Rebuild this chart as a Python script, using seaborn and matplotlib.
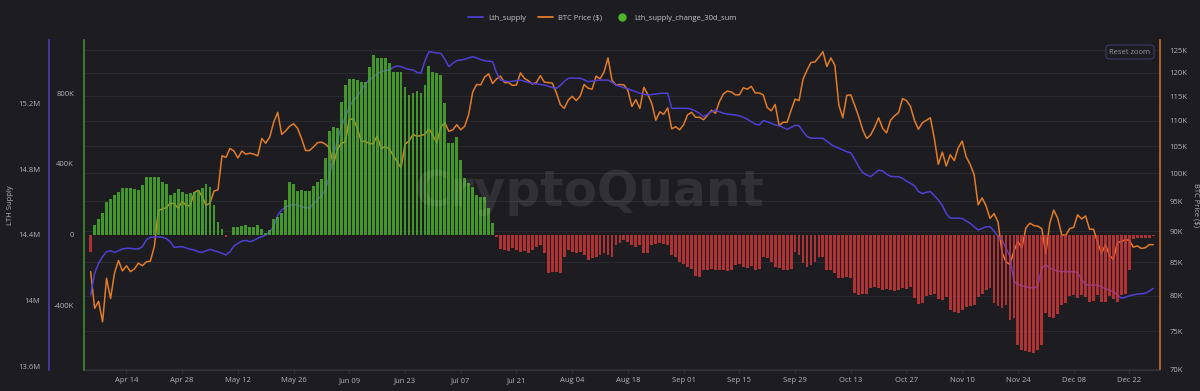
import numpy as np
import pandas as pd
import matplotlib
matplotlib.use("Agg")
import matplotlib.pyplot as plt
import matplotlib.dates as mdates
from matplotlib.ticker import FixedLocator, FuncFormatter, NullLocator, NullFormatter
from matplotlib.lines import Line2D
import seaborn as sns

# ---------------- data (daily, starting 2025-04-05) ----------------
start_date = "2025-04-05"

lth_supply_m = [
    14.035, 14.167, 14.228, 14.268, 14.298, 14.304, 14.294, 14.304, 14.315, 14.319,
    14.319, 14.315, 14.315, 14.329, 14.370, 14.386, 14.388, 14.388, 14.386, 14.378,
    14.359, 14.325, 14.327, 14.329, 14.321, 14.313, 14.309, 14.298, 14.294, 14.304,
    14.313, 14.304, 14.298, 14.288, 14.278, 14.298, 14.333, 14.349, 14.363, 14.367,
    14.359, 14.367, 14.380, 14.390, 14.400, 14.420, 14.451, 14.520, 14.552, 14.570,
    14.580, 14.585, 14.583, 14.572, 14.566, 14.564, 14.590, 14.613, 14.640, 14.674,
    14.760, 14.880, 14.980, 15.059, 15.120, 15.180, 15.220, 15.242, 15.280, 15.320,
    15.344, 15.360, 15.380, 15.395, 15.400, 15.405, 15.420, 15.429, 15.425, 15.415,
    15.408, 15.405, 15.390, 15.384, 15.460, 15.516, 15.512, 15.508, 15.506, 15.470,
    15.425, 15.445, 15.462, 15.465, 15.470, 15.478, 15.485, 15.478, 15.468, 15.461,
    15.458, 15.455, 15.386, 15.343, 15.338, 15.333, 15.336, 15.340, 15.343, 15.335,
    15.328, 15.323, 15.320, 15.316, 15.313, 15.305, 15.298, 15.293, 15.310, 15.335,
    15.354, 15.356, 15.354, 15.354, 15.345, 15.333, 15.336, 15.340, 15.343, 15.343,
    15.343, 15.330, 15.313, 15.305, 15.296, 15.290, 15.280, 15.272, 15.263, 15.256,
    15.252, 15.255, 15.258, 15.262, 15.263, 15.263, 15.171, 15.171, 15.172, 15.171,
    15.171, 15.165, 15.155, 15.140, 15.120, 15.135, 15.150, 15.161, 15.150, 15.141,
    15.136, 15.133, 15.131, 15.125, 15.117, 15.105, 15.090, 15.075, 15.070, 15.096,
    15.090, 15.080, 15.070, 15.065, 15.055, 15.043, 15.055, 15.068, 15.065, 15.030,
    15.000, 14.989, 14.989, 14.989, 14.989, 14.970, 14.952, 14.938, 14.928, 14.918,
    14.907, 14.900, 14.860, 14.815, 14.780, 14.765, 14.755, 14.775, 14.795, 14.790,
    14.770, 14.757, 14.755, 14.755, 14.745, 14.728, 14.715, 14.700, 14.665, 14.652,
    14.660, 14.664, 14.640, 14.613, 14.580, 14.530, 14.502, 14.502, 14.503, 14.500,
    14.485, 14.471, 14.450, 14.430, 14.440, 14.450, 14.451, 14.425, 14.390, 14.370,
    14.320, 14.268, 14.116, 14.100, 14.090, 14.085, 14.080, 14.077, 14.090, 14.200,
    14.217, 14.200, 14.187, 14.180, 14.177, 14.177, 14.176, 14.177, 14.170, 14.130,
    14.096, 14.096, 14.095, 14.096, 14.085, 14.072, 14.065, 14.055, 14.035, 14.015,
    14.020, 14.030, 14.035, 14.040, 14.042, 14.045, 14.058, 14.075,
]

btc_price_k = [
    83.6, 78.2, 79.2, 76.3, 82.6, 79.6, 83.4, 85.3, 83.7, 84.5,
    83.6, 84.0, 84.9, 84.5, 85.1, 85.2, 87.5, 93.4, 93.7, 93.9,
    94.7, 94.6, 93.8, 95.0, 94.3, 94.2, 96.5, 96.9, 95.9, 94.3,
    94.7, 96.8, 97.0, 103.2, 102.9, 104.6, 104.1, 102.8, 104.1, 103.5,
    103.7, 103.5, 103.2, 106.5, 105.6, 106.8, 109.7, 111.7, 107.3, 108.0,
    108.9, 109.4, 108.5, 106.5, 104.2, 104.2, 104.9, 105.7, 105.8, 105.4,
    104.7, 101.6, 104.4, 105.6, 105.8, 110.3, 110.3, 108.6, 105.9, 106.0,
    105.5, 105.5, 107.0, 104.6, 104.9, 104.6, 103.3, 102.1, 101.0, 105.4,
    106.0, 107.3, 106.9, 107.1, 107.3, 108.4, 107.1, 105.7, 108.8, 109.6,
    107.9, 108.2, 109.2, 108.2, 108.9, 111.3, 115.9, 117.5, 117.4, 119.1,
    119.8, 117.7, 118.7, 119.3, 117.9, 117.9, 117.3, 117.4, 120.0, 118.8,
    118.3, 117.6, 117.9, 119.4, 118.0, 117.9, 117.8, 115.8, 113.3, 112.5,
    114.2, 115.0, 114.1, 115.0, 117.5, 116.7, 116.5, 119.3, 118.7, 120.2,
    123.3, 118.4, 117.4, 117.5, 117.4, 116.2, 112.9, 114.3, 112.5, 116.9,
    115.4, 113.5, 110.1, 111.8, 111.3, 112.6, 108.4, 108.8, 108.2, 109.2,
    111.2, 111.7, 110.7, 110.7, 110.2, 111.1, 112.1, 111.5, 113.9, 115.5,
    116.1, 115.9, 115.3, 115.3, 116.8, 116.5, 117.1, 115.7, 115.7, 115.3,
    112.7, 112.0, 113.3, 109.0, 109.7, 109.7, 112.1, 114.4, 114.1, 118.6,
    120.6, 122.3, 122.4, 123.5, 124.7, 121.4, 123.3, 121.7, 113.2, 110.6,
    115.2, 115.3, 113.1, 110.8, 108.2, 106.5, 107.2, 108.7, 110.6, 108.5,
    107.6, 110.1, 111.0, 111.6, 114.5, 114.1, 112.9, 110.1, 108.3, 109.6,
    110.1, 110.6, 106.5, 101.6, 103.9, 101.3, 103.4, 102.3, 104.7, 106.0,
    103.0, 101.6, 99.7, 94.4, 95.6, 94.2, 92.1, 92.9, 91.5, 86.6,
    85.1, 84.7, 86.8, 88.3, 87.3, 90.5, 91.3, 90.9, 90.8, 90.4,
    86.3, 91.3, 93.5, 92.1, 89.4, 89.3, 90.4, 90.6, 92.7, 92.0,
    92.5, 90.3, 90.3, 88.2, 86.4, 87.8, 86.1, 85.5, 88.1, 88.3,
    88.6, 88.5, 87.4, 87.6, 87.2, 87.3, 87.8, 87.8,
]

lth_change_30d_k = [
    -94, 56, 88, 122, 188, 201, 225, 244, 263, 267,
    263, 257, 253, 282, 325, 328, 328, 325, 300, 287,
    225, 235, 257, 244, 231, 238, 244, 253, 263, 287,
    268, 169, 75, 32, -13, 0, 47, 47, 51, 56,
    43, 43, 56, 36, 12, 28, 90, 99, 122, 197,
    300, 287, 250, 253, 250, 250, 276, 300, 313, 432,
    588, 606, 601, 751, 845, 877, 877, 873, 863, 863,
    948, 1014, 1000, 1000, 1000, 970, 920, 920, 920, 835,
    788, 801, 813, 801, 845, 952, 920, 910, 901, 745,
    516, 516, 554, 422, 319, 295, 272, 225, 216, 216,
    150, 69, -9, -81, -84, -88, -75, -84, -94, -88,
    -99, -84, -66, -56, -103, -216, -206, -206, -216, -122,
    -84, -94, -103, -94, -113, -141, -131, -122, -113, -103,
    -113, -122, -56, -47, -28, -38, -56, -66, -56, -103,
    -100, -56, -50, -47, -50, -56, -115, -122, -150, -165,
    -178, -190, -230, -235, -200, -195, -190, -195, -200, -197,
    -205, -200, -170, -165, -178, -185, -175, -197, -190, -122,
    -130, -150, -178, -185, -197, -200, -190, -94, -110, -160,
    -178, -170, -150, -125, -122, -195, -200, -215, -244, -240,
    -235, -244, -328, -338, -335, -330, -300, -291, -300, -310,
    -305, -310, -315, -310, -300, -305, -291, -357, -390, -385,
    -345, -340, -330, -360, -365, -350, -420, -432, -441, -425,
    -404, -400, -395, -350, -330, -310, -300, -385, -400, -410,
    -395, -479, -470, -620, -648, -655, -660, -666, -650, -620,
    -441, -460, -470, -445, -395, -385, -345, -340, -357, -338,
    -350, -380, -370, -340, -380, -375, -345, -360, -380, -338,
    -330, -197, -20, -17, -15, -17, -19, -6,
]

price_ticks_k = [70, 75, 80, 85, 90, 95, 100, 105, 110, 115, 120, 125]
lth_ticks_m = [13.6, 14.0, 14.4, 14.8, 15.2]
change_ticks_k = [-400, 0, 400, 800]
x_tick_start, x_tick_end = "2025-04-14", "2025-12-22"

dates = pd.date_range(start_date, periods=len(btc_price_k), freq="D")
df = pd.DataFrame({
    "date": dates,
    "lth": np.array(lth_supply_m) * 1e6,
    "price": np.array(btc_price_k) * 1e3,
    "chg": np.array(lth_change_30d_k) * 1e3,
})

# ---------------- style ----------------
sns.set_theme(style="dark")
plt.rcParams["font.family"] = ["Open Sans", "DejaVu Sans"]

BG = "#1c1c21"
GRID = "#2a2a31"
TXT = "#b4b4ba"
BLUE = "#4f3fd4"
ORANGE = "#e27c2a"
GREEN = "#4cb52d"
RED = "#d4393b"

fig = plt.figure(figsize=(12, 3.91), dpi=100, facecolor=BG)
ax0 = fig.add_axes([84 / 1200, 21 / 391, 1076 / 1200, 330 / 391])
ax1 = ax0.twinx()
ax2 = ax0.twinx()
ax0.set_facecolor(BG)

sns.lineplot(data=df, x="date", y="price", ax=ax0, color=ORANGE, linewidth=1.1)
sns.lineplot(data=df, x="date", y="lth", ax=ax1, color=BLUE, linewidth=1.1)
bar_colors = [GREEN if v >= 0 else RED for v in df["chg"]]
ax2.bar(df["date"], df["chg"], width=0.72, color=bar_colors, alpha=0.8, linewidth=0)

x0 = pd.Timestamp(start_date)
ax0.set_xlim(x0 - pd.Timedelta(days=1.67), x0 + pd.Timedelta(days=268.7))

for a in (ax0, ax1, ax2):
    for s in a.spines.values():
        s.set_visible(False)
    a.set_xlabel("")
    a.set_ylabel("")

# price axis (right, log)
ax0.set_yscale("log")
ax0.set_ylim(69900, 127400)
ax0.yaxis.set_major_locator(FixedLocator([t * 1000 for t in price_ticks_k]))
ax0.yaxis.set_minor_locator(NullLocator())
ax0.yaxis.set_major_formatter(FuncFormatter(lambda v, p: f"{v / 1000:.0f}K"))
ax0.yaxis.set_minor_formatter(NullFormatter())
ax0.yaxis.tick_right()
ax0.yaxis.set_label_position("right")
ax0.grid(True, axis="y", color=GRID, linewidth=0.7)
ax0.grid(False, axis="x")
ax0.tick_params(axis="y", which="both", right=True, left=False, labelright=True,
                labelleft=False, length=0, pad=7, labelsize=5.5, labelcolor=TXT)
ax0.spines["right"].set_visible(True)
ax0.spines["right"].set_color("#c86c28")
ax0.spines["right"].set_linewidth(1.2)
ax0.spines["bottom"].set_visible(True)
ax0.spines["bottom"].set_color("#34343b")
ax0.spines["bottom"].set_linewidth(0.8)
ax0.set_ylabel("BTC Price ($)", rotation=270, fontsize=5.5, color=TXT)
ax0.yaxis.set_label_coords((1196 - 84) / 1076, 0.5)
ax0.yaxis.label.set_verticalalignment("center")
ax0.yaxis.label.set_horizontalalignment("center")

# x axis
xt = pd.date_range(x_tick_start, x_tick_end, freq="14D")
ax0.xaxis.set_major_locator(FixedLocator(mdates.date2num(xt)))
ax0.xaxis.set_major_formatter(mdates.DateFormatter("%b %d"))
ax0.tick_params(axis="x", bottom=True, length=2.5, width=0.6, color="#3a3a42",
                labelsize=5.5, labelcolor=TXT, pad=2.5)

# LTH supply axis (left, outer)
ax1.set_ylim(13.578e6, 15.587e6)
ax1.yaxis.set_major_locator(FixedLocator([t * 1e6 for t in lth_ticks_m]))
ax1.yaxis.set_major_formatter(FuncFormatter(lambda v, p: f"{v / 1e6:g}M"))
ax1.yaxis.tick_left()
ax1.yaxis.set_label_position("left")
ax1.spines["left"].set_visible(True)
ax1.spines["left"].set_position(("outward", 25.2))
ax1.spines["left"].set_color("#4a3bb8")
ax1.spines["left"].set_linewidth(1.2)
ax1.tick_params(axis="y", left=True, right=False, labelleft=True, labelright=False,
                length=0, pad=6.5, labelsize=5.5, labelcolor=TXT)
ax1.set_ylabel("LTH Supply", fontsize=5.5, color=TXT)
ax1.yaxis.set_label_coords((10 - 84) / 1076, 0.5)
ax1.yaxis.label.set_verticalalignment("center")
ax1.yaxis.label.set_horizontalalignment("center")

# change (bars) axis (left, inner)
ax2.set_ylim(-760.6e3, 1098.6e3)
ax2.yaxis.set_major_locator(FixedLocator([t * 1e3 for t in change_ticks_k]))
ax2.yaxis.set_major_formatter(FuncFormatter(lambda v, p: "0" if abs(v) < 1 else f"{v / 1000:.0f}K"))
ax2.yaxis.tick_left()
ax2.spines["left"].set_visible(True)
ax2.spines["left"].set_color("#3f8a2c")
ax2.spines["left"].set_linewidth(1.2)
ax2.tick_params(axis="y", left=True, right=False, labelleft=True, labelright=False,
                length=0, pad=7.2, labelsize=5.5, labelcolor=TXT)

# watermark
ax2.text(0.47, 0.54, "CryptoQuant", transform=ax2.transAxes, ha="center", va="center",
         fontsize=35, fontweight="bold", color="white", alpha=0.09,
         family="DejaVu Sans", zorder=5)

# reset zoom button
fig.text(1130 / 1200, 1 - 52 / 391, "Reset zoom", ha="center", va="center", fontsize=5.5,
         color="#9a9aa6", bbox=dict(boxstyle="round,pad=0.45", fc=BG, ec="#3a3a66", lw=0.8))

# legend
handles = [
    Line2D([0], [0], color=BLUE, lw=1.3),
    Line2D([0], [0], color=ORANGE, lw=1.3),
    Line2D([0], [0], color=GREEN, marker="o", lw=0, markersize=5),
]
fig.legend(handles, ["Lth_supply", "BTC Price ($)", "Lth_supply_change_30d_sum"],
           loc="center", bbox_to_anchor=(0.502, 1 - 18 / 391), ncol=3, frameon=False,
           fontsize=5.5, labelcolor="#c8c8cc", handlelength=2.0, columnspacing=1.6,
           handletextpad=0.6)

fig.savefig("out.png", dpi=100, facecolor=BG)
